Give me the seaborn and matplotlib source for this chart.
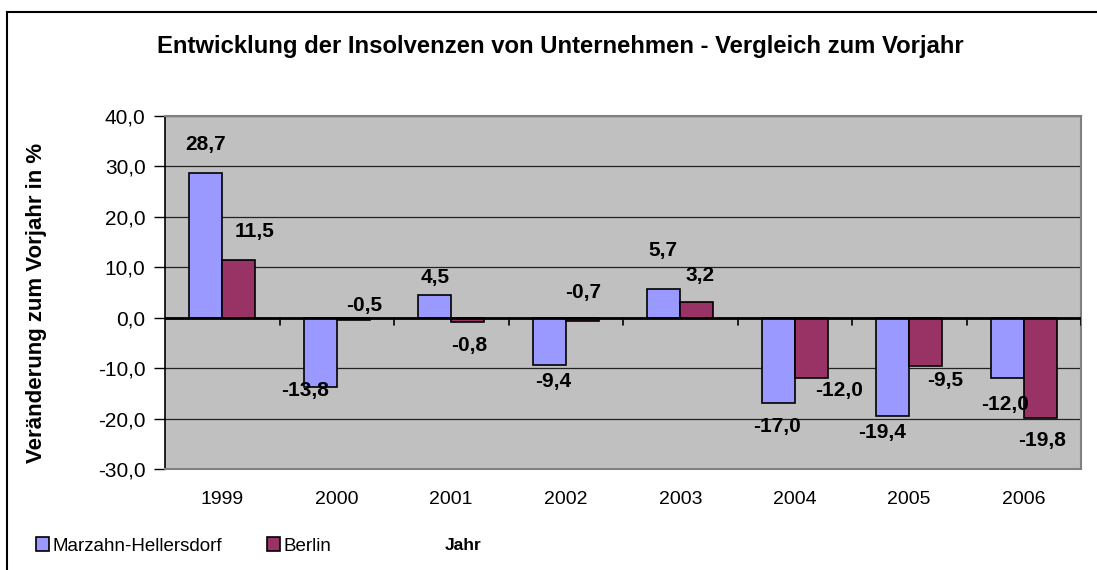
import matplotlib
matplotlib.use("Agg")
import matplotlib.pyplot as plt
from matplotlib.patches import Rectangle, Patch
import pandas as pd
import seaborn as sns

years = ["1999", "2000", "2001", "2002", "2003", "2004", "2005", "2006"]
marzahn = [28.7, -13.8, 4.5, -9.4, 5.7, -17.0, -19.4, -12.0]
berlin = [11.5, -0.5, -0.8, -0.7, 3.2, -12.0, -9.5, -19.8]
series = ["Marzahn-Hellersdorf", "Berlin"]
colors = ["#9999FF", "#993366"]

# label offsets in pixels (dx, dy up) relative to bar end, as placed in the original
blue_offsets = [(0, 28), (-15, -3), (0, 18), (4, -16), (-1, 38), (-1, -23), (-11, -17), (-2, -26)]
red_offsets = [(16, 28), (11, 15), (1, -24), (1, 29), (3, 26), (28, -12), (19, -15), (2, -23)]

df = pd.DataFrame({
    "Jahr": years * 2,
    "Wert": marzahn + berlin,
    "Region": [series[0]] * len(years) + [series[1]] * len(years),
})

sns.set_theme(style="white")
plt.rcParams["font.family"] = ["Liberation Sans", "DejaVu Sans"]
plt.rcParams["text.color"] = "black"
plt.rcParams["axes.labelcolor"] = "black"
plt.rcParams["xtick.color"] = "black"
plt.rcParams["ytick.color"] = "black"

fig = plt.figure(figsize=(10.97, 5.70), dpi=100)
ax = fig.add_axes([165 / 1097, 1 - 469 / 570, 916 / 1097, 353 / 570])
ax.set_facecolor("#C0C0C0")

sns.barplot(data=df, x="Jahr", y="Wert", hue="Region", palette=colors,
            saturation=1, width=0.576, gap=0, edgecolor="black", linewidth=1.2,
            legend=False, ax=ax)

ax.set_ylim(-30, 40)
ax.set_xlim(-0.5, len(years) - 0.5)
ax.set_yticks(range(-30, 41, 10))
ax.set_yticklabels([f"{v:.1f}".replace(".", ",") for v in range(-30, 41, 10)], fontsize=15)
ax.yaxis.grid(True, color="#222222", linewidth=0.9)
ax.set_axisbelow(True)
ax.tick_params(axis="y", direction="out", length=8, width=1, color="black", pad=6, left=True)
ax.tick_params(axis="x", length=0, pad=16, labelsize=14)

for s in ax.spines.values():
    s.set_color("#808080")
    s.set_linewidth(1.5)
ax.spines["left"].set_color("black")
ax.spines["left"].set_linewidth(1.2)

# zero line with category separators
ax.axhline(0, color="black", linewidth=2, zorder=3)
for i in range(len(years)):
    ax.plot([i + 0.5, i + 0.5], [0, -1.4], color="black", linewidth=1.2, zorder=3)

for cont, offs in zip(ax.containers, [blue_offsets, red_offsets]):
    for patch, (dx, dy) in zip(cont.patches, offs):
        end = patch.get_y() + patch.get_height()
        ax.annotate(f"{end:.1f}".replace(".", ","),
                    xy=(patch.get_x() + patch.get_width() / 2, end),
                    xytext=(dx, dy), textcoords="offset pixels",
                    ha="center", va="center", fontsize=15, fontweight="bold",
                    color="black", zorder=5)

ax.set_ylabel("Veränderung zum Vorjahr in %", fontsize=16, fontweight="bold")
ax.yaxis.set_label_coords(-0.129, 0.47)
ax.set_xlabel("Jahr", fontsize=12.5, fontweight="bold")
ax.xaxis.set_label_coords((463 - 165) / 916, (469 - 538) / 353)

fig.text(560 / 1097, 1 - 46 / 570, "Entwicklung der Insolvenzen von Unternehmen - Vergleich zum Vorjahr",
         ha="center", va="center", fontsize=17.2, fontweight="bold")

handles = [Patch(facecolor=c, edgecolor="black", linewidth=1.2) for c in colors]
fig.legend(handles, series, loc="center left", bbox_to_anchor=(28 / 1097, 1 - 546 / 570),
           ncol=2, frameon=False, fontsize=13.5, handlelength=0.7, handleheight=0.7,
           handletextpad=0.2, columnspacing=2.4, borderaxespad=0)

fig.add_artist(Rectangle((7 / 1097, -0.2), 1.2, 1.2 - 12 / 570,
                         transform=fig.transFigure, fill=False, edgecolor="black",
                         linewidth=1.5))

fig.savefig("out.png", dpi=100)
